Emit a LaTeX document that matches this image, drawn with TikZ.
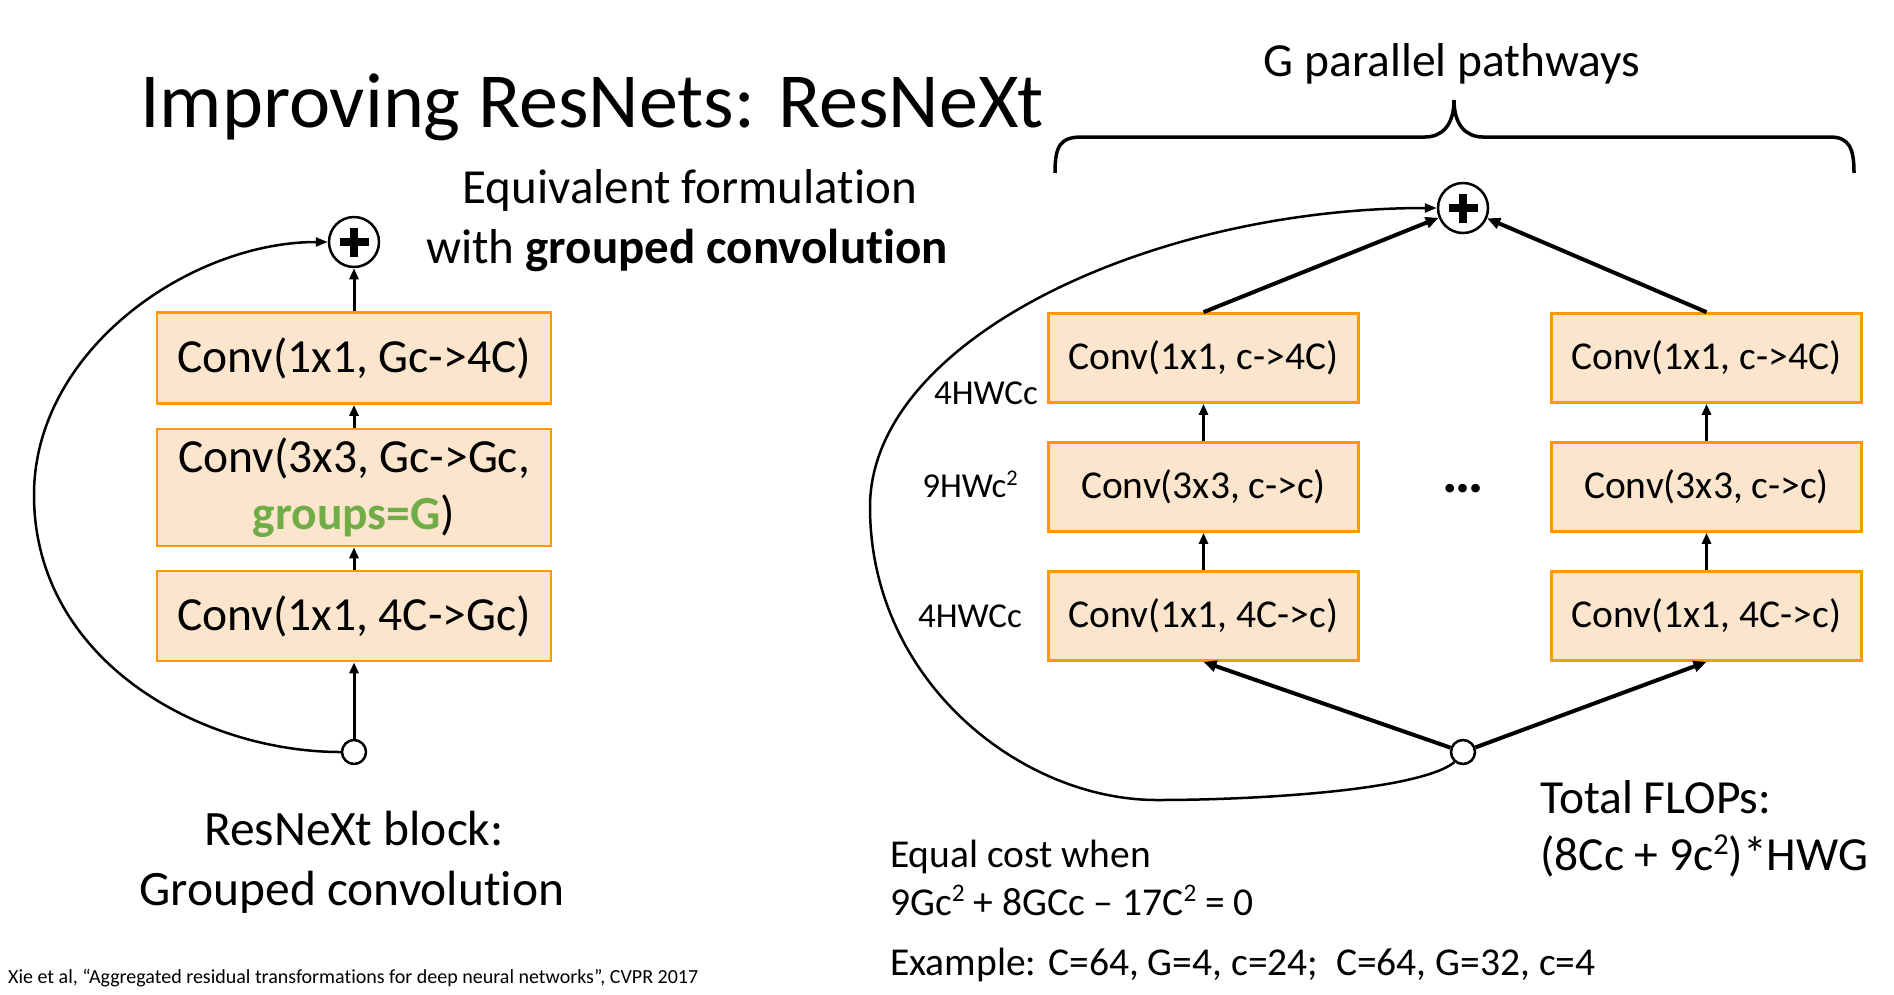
\documentclass[tikz,border=0pt]{standalone}
\usepackage{fontspec}
\setmainfont{Carlito}[Ligatures={TeX,NoCommon}]
\usetikzlibrary{arrows.meta}
\definecolor{boxfill}{RGB}{252,229,205}
\definecolor{boxline}{RGB}{255,153,0}
\definecolor{grp}{RGB}{112,173,71}
\newcommand{\fbig}{\fontsize{47.5}{57}\selectfont}
\newcommand{\fcap}{\fontsize{49.5}{60}\selectfont}
\newcommand{\fmid}{\fontsize{39.5}{47}\selectfont}
\newcommand{\flab}{\fontsize{35}{42}\selectfont}
\newcommand{\supx}[1]{\raisebox{0.33em}{\scalebox{0.64}{#1}}}
\begin{document}
\begin{tikzpicture}[x=1pt,y=-1pt,
  convbox/.style={draw=boxline, fill=boxfill, line width=2.7pt, minimum width=394pt, inner sep=0pt, font=\fbig, align=center},
  convsmall/.style={draw=boxline, fill=boxfill, line width=2.7pt, minimum width=310pt, minimum height=89pt, inner sep=0pt, font=\fmid},
  plusnode/.style={circle, draw, line width=2.5pt, minimum size=50pt, inner sep=0pt},
  innode/.style={circle, draw, line width=2.5pt, fill=white, minimum size=24pt, inner sep=0pt},
  arr/.style={-{Triangle[length=11pt,width=9pt]}, line width=3pt},
  thickarr/.style={-{Triangle[length=13pt,width=11pt]}, line width=4pt},
  loopline/.style={-{Triangle[length=12pt,width=9pt]}, line width=2.5pt},
  txt/.style={inner sep=0pt},
  plussign/.style={line width=7.5pt}
]
\useasboundingbox (0,0) rectangle (1894,994);

% titles
\node[txt, anchor=base west, font=\fontsize{78}{90}\selectfont] (title) at (140,127) {Improving ResNets: ResNeXt};
\node[txt, anchor=base, font=\fontsize{49}{58}\selectfont] (eq1) at (690,203) {Equivalent formulation};
\node[txt, anchor=base, font=\fontsize{49}{58}\selectfont] (eq2) at (687,263) {with \textbf{grouped convolution}};

% left block
\node[plusnode] (lplus) at (354,242) {};
\draw[plussign] ([xshift=-14.5pt]lplus.center) -- ([xshift=14.5pt]lplus.center);
\draw[plussign] ([yshift=-14.5pt]lplus.center) -- ([yshift=14.5pt]lplus.center);
\node[convbox, minimum height=91pt] (l1) at (354,358) {Conv(1x1, Gc->4C)};
\node[convbox, minimum height=117pt] (l2) at (354,487.5) {Conv(3x3, Gc->Gc,\\\textcolor{grp}{\textbf{groups=G}})};
\node[convbox, minimum height=90pt] (l3) at (354,616) {Conv(1x1, 4C->Gc)};
\node[innode] (lin) at (354,752) {};
\draw[arr] (lin) -- (l3);
\draw[arr] (l3) -- (l2);
\draw[arr] (l2) -- (l1);
\draw[arr] (l1) -- (lplus);
\draw[loopline] (lin.west) .. controls (200,752) and (34,660) .. (34,495)
  .. controls (34,350) and (190,242) .. (lplus.west);
\node[txt, anchor=base, font=\fcap] (lcap1) at (354,845) {ResNeXt block:};
\node[txt, anchor=base, font=\fcap] (lcap2) at (352,905) {Grouped convolution};
\node[txt, anchor=base west, font=\fontsize{20}{24}\selectfont] (cite) at (8,983) {Xie et al, “Aggregated residual transformations for deep neural networks”, CVPR 2017};

% right block
\node[txt, anchor=base, font=\fbig] (gpp) at (1452,76) {G parallel pathways};
\draw[line width=3.5pt] (1055,173) .. controls (1055,146) and (1060,137) .. (1082,137)
  -- (1425,137) .. controls (1442,137) and (1454,125) .. (1454,100)
  .. controls (1454,125) and (1466,137) .. (1483,137)
  -- (1830,137) .. controls (1849,137) and (1854,148) .. (1854,173);
\node[plusnode] (rplus) at (1463,208) {};
\draw[plussign] ([xshift=-14.5pt]rplus.center) -- ([xshift=14.5pt]rplus.center);
\draw[plussign] ([yshift=-14.5pt]rplus.center) -- ([yshift=14.5pt]rplus.center);

\node[convsmall] (a1) at (1203.5,358) {Conv(1x1, c->4C)};
\node[convsmall] (a2) at (1203.5,487) {Conv(3x3, c->c)};
\node[convsmall] (a3) at (1203.5,616) {Conv(1x1, 4C->c)};
\node[convsmall] (b1) at (1706.5,358) {Conv(1x1, c->4C)};
\node[convsmall] (b2) at (1706.5,487) {Conv(3x3, c->c)};
\node[convsmall] (b3) at (1706.5,616) {Conv(1x1, 4C->c)};
\node[txt, anchor=base, font=\fontsize{58}{60}\selectfont\bfseries] (dots) at (1463,492) {…};

\node[txt, anchor=base east, font=\flab] (la1) at (1038,404) {4HWCc};
\node[txt, anchor=base east, font=\flab] (la2) at (1018,497) {9HWc\supx{2}};
\node[txt, anchor=base east, font=\flab] (la3) at (1022,627) {4HWCc};

\node[innode] (rin) at (1463,752) {};
\draw[thickarr] (rin) -- (a3.south);
\draw[thickarr] (rin) -- (b3.south);
\draw[arr] (a3) -- (a2);
\draw[arr] (a2) -- (a1);
\draw[arr] (b3) -- (b2);
\draw[arr] (b2) -- (b1);
\draw[thickarr] (a1.north) -- (rplus);
\draw[thickarr] (b1.north) -- (rplus);
\draw[loopline] (rin.230) .. controls (1420,790) and (1260,800) .. (1157,800)
  .. controls (1020,800) and (870,680) .. (870,507)
  .. controls (870,340) and (1150,208) .. (rplus.west);

\node[txt, anchor=base west, font=\fbig] (tf1) at (1540,813) {Total FLOPs:};
\node[txt, anchor=base west, font=\fbig] (tf2) at (1540,870) {(8Cc + 9c\supx{2})*HWG};
\node[txt, anchor=base west, font=\fmid] (ec1) at (890,867) {Equal cost when};
\node[txt, anchor=base west, font=\fmid] (ec2) at (890,915) {9Gc\supx{2} + 8GCc – 17C\supx{2} = 0};
\node[txt, anchor=base west, font=\fmid] (ex) at (890,975) {Example: C=64, G=4, c=24;\ \ C=64, G=32, c=4};
\end{tikzpicture}
\end{document}
